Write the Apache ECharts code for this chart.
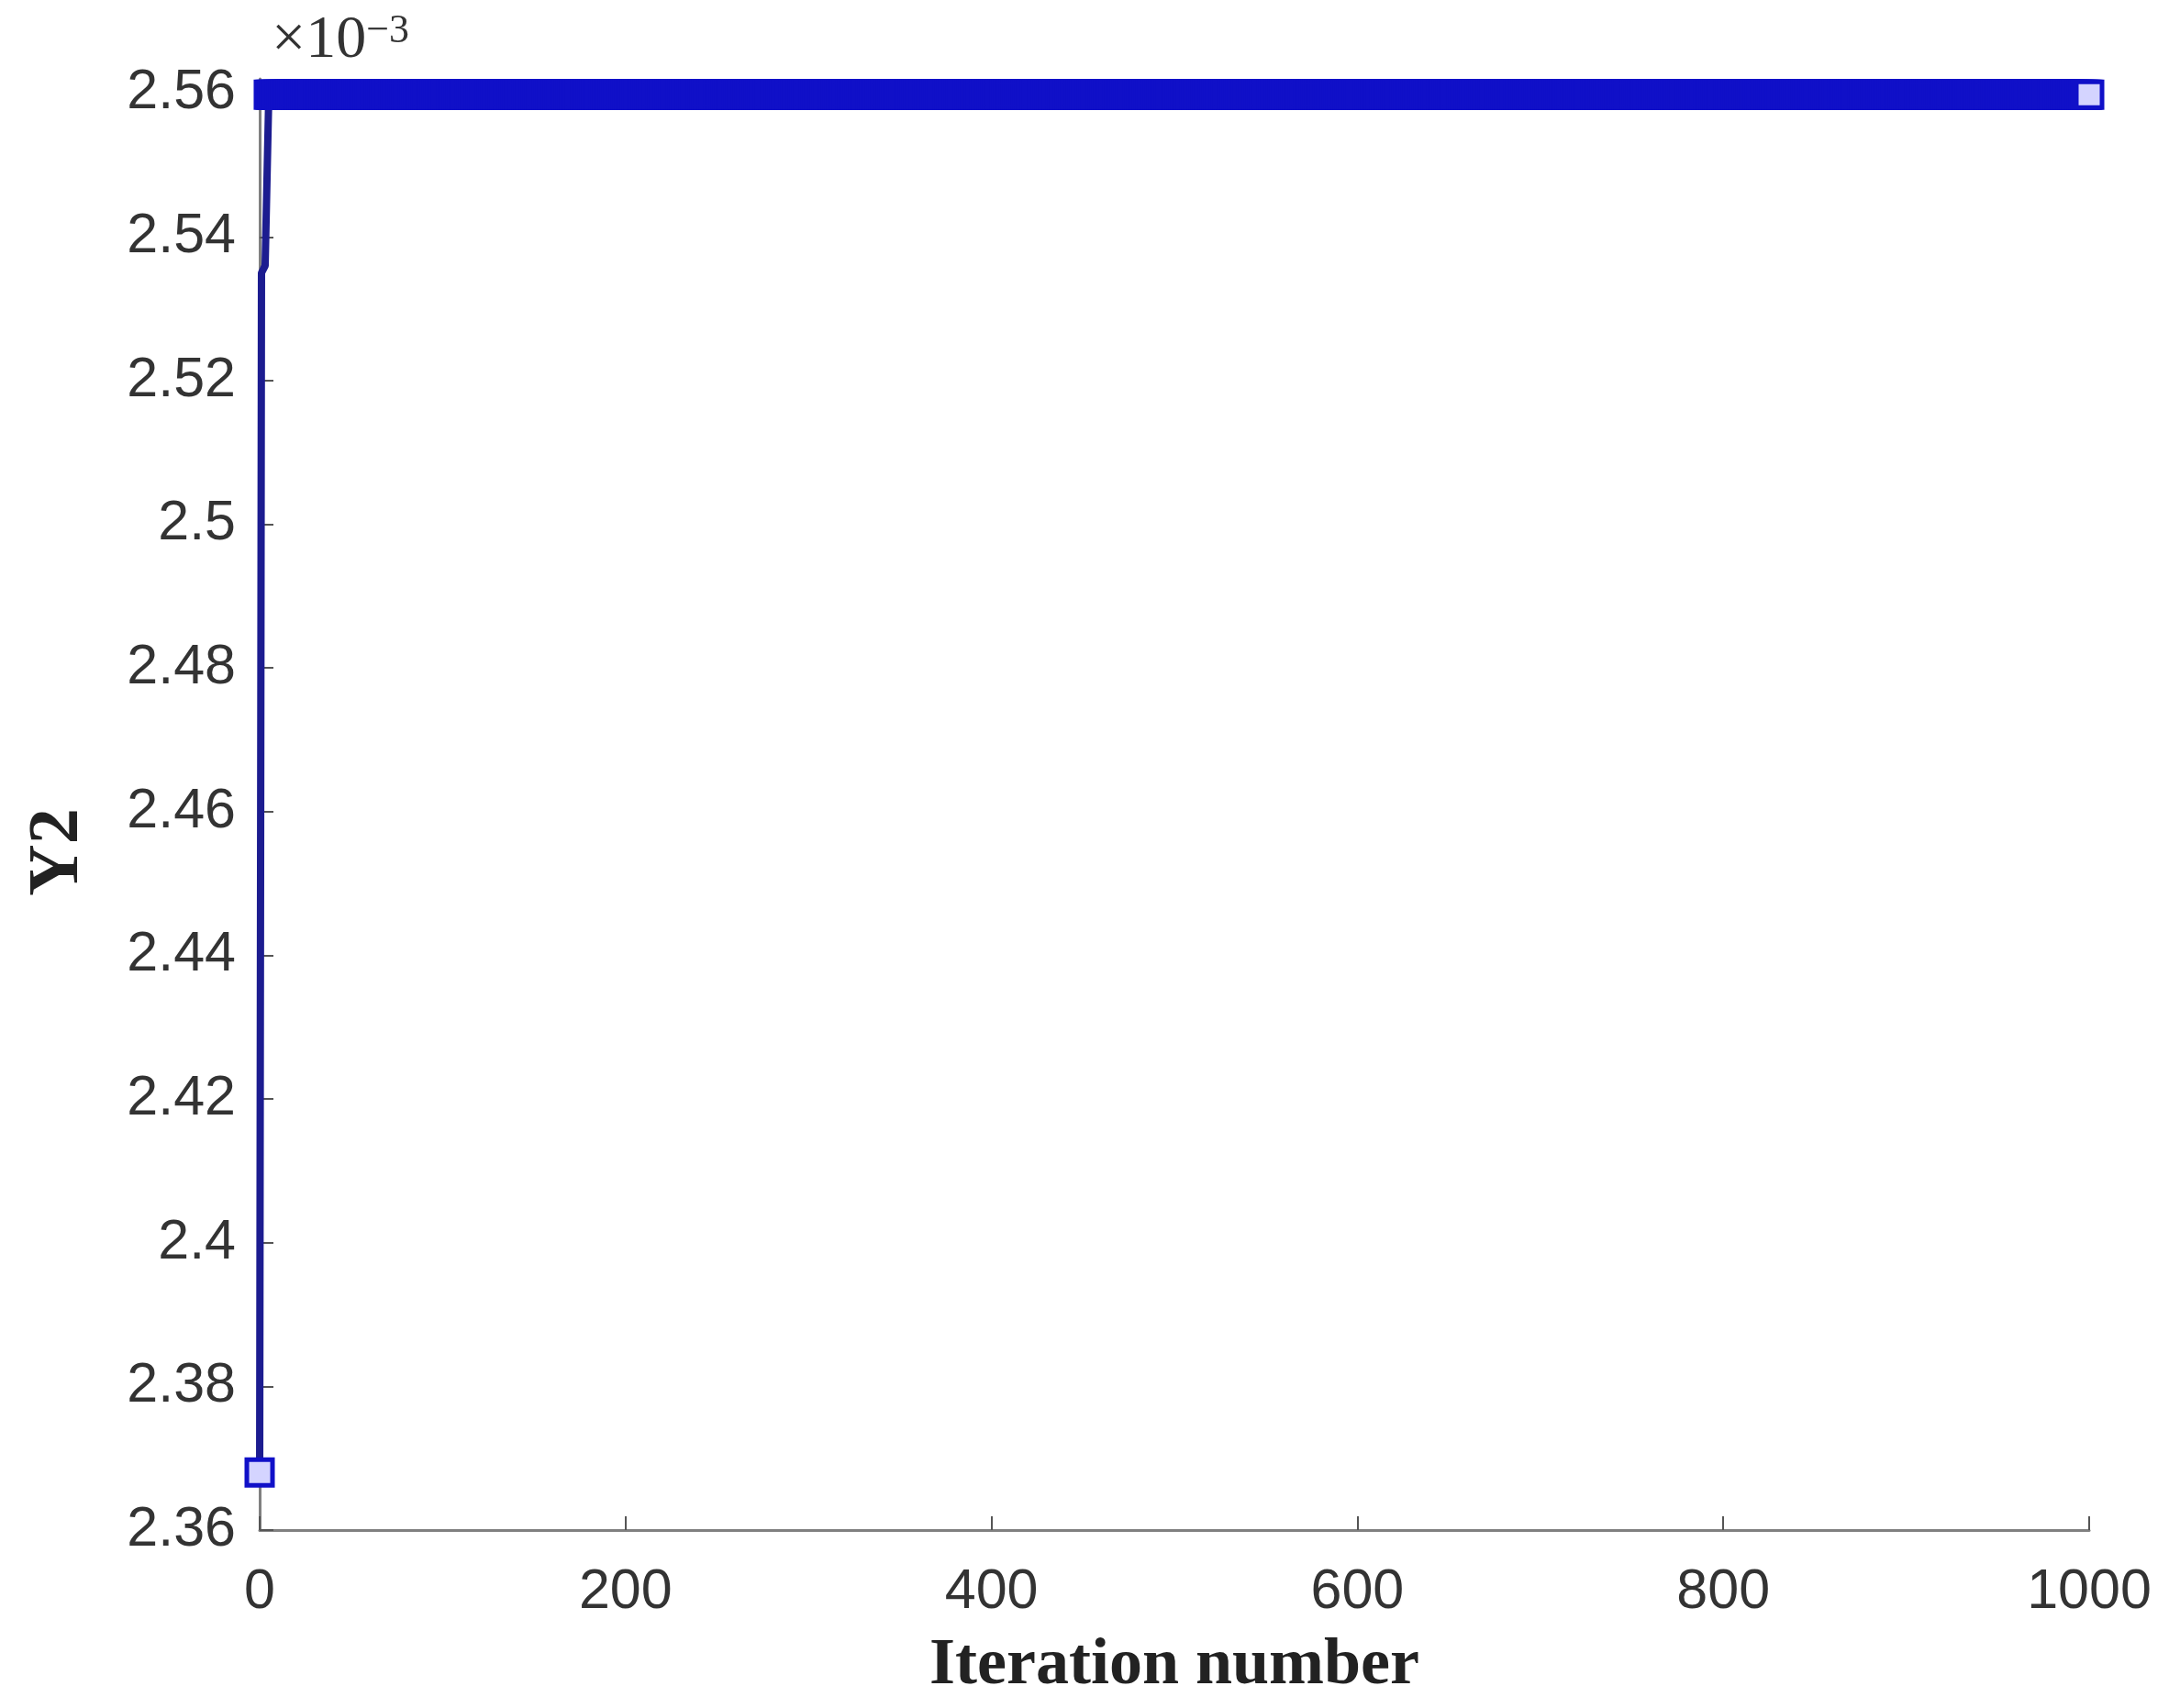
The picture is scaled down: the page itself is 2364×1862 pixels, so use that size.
<!DOCTYPE html>
<html>
<head>
<meta charset="utf-8">
<script src="https://cdn.jsdelivr.net/npm/echarts@6/dist/echarts.min.js"></script>
<style>
  html, body { margin: 0; padding: 0; background: #fff; }
  #chart { width: 2364px; height: 1862px; }
</style>
</head>
<body>
<div id="chart"></div>
<script>
// Y2 values are in units of 1e-3 (see the ×10^-3 label)
const startIterations = [0, 1, 2, 3, 4];
const startValues = [2.368, 2.535, 2.535, 2.536, 2.536];
const plateauValue = 2.5598;   // flat from iteration 5 to the end
const lastIteration = 1000;

const xTicks = [0, 200, 400, 600, 800, 1000];
const yTicks = [2.36, 2.38, 2.4, 2.42, 2.44, 2.46, 2.48, 2.5, 2.52, 2.54, 2.56];

// first point keeps its marker, the short climb to the plateau has none
const points = startIterations.map((it, i) => {
  return i === 0 ? [it, startValues[i]] : { value: [it, startValues[i]], symbol: 'none' };
});
for (let it = startIterations.length; it <= lastIteration; it++) {
  points.push([it, plateauValue]);
}

const labelFont = { fontFamily: 'Liberation Sans, Arial, sans-serif', fontSize: 61, color: '#333' };
const serif = 'Liberation Serif, Times New Roman, serif';
const axisGray = '#808080';

const chart = echarts.init(document.getElementById('chart'));
chart.setOption({
  animation: false,
  backgroundColor: '#fff',
  grid: { left: 283, right: 87, top: 86, bottom: 194 },
  xAxis: {
    type: 'value',
    min: xTicks[0],
    max: xTicks[xTicks.length - 1],
    interval: xTicks[1] - xTicks[0],
    name: 'Iteration number',
    nameLocation: 'middle',
    nameGap: 112,
    nameTextStyle: { fontFamily: serif, fontWeight: 'bold', fontSize: 72, color: '#222' },
    axisLine: { lineStyle: { color: axisGray, width: 3 } },
    axisTick: { inside: true, length: 15, lineStyle: { color: '#555', width: 2 } },
    axisLabel: Object.assign({ margin: 38, formatter: v => String(v) }, labelFont),
    splitLine: { show: false }
  },
  yAxis: {
    type: 'value',
    min: yTicks[0],
    max: 2.562,
    interval: yTicks[1] - yTicks[0],
    name: 'Y2',
    nameLocation: 'middle',
    nameGap: 180,
    nameTextStyle: {
      fontFamily: serif, fontWeight: 'bold', fontSize: 78, color: '#222',
      padding: [0, 104, 0, 0]
    },
    axisLine: { show: true, lineStyle: { color: axisGray, width: 3 } },
    axisTick: { show: true, inside: true, length: 15, lineStyle: { color: '#555', width: 2 } },
    axisLabel: Object.assign({ margin: 26, showMaxLabel: false }, labelFont),
    splitLine: { show: false }
  },
  graphic: [{
    type: 'text',
    left: 296,
    top: 12,
    style: {
      text: '{b|×10}{s|−3}',
      rich: {
        b: { fontFamily: serif, fontSize: 66, fill: '#333' },
        s: { fontFamily: serif, fontSize: 44, fill: '#333', verticalAlign: 'top' }
      }
    }
  }],
  series: [{
    type: 'line',
    data: points,
    symbol: 'rect',
    symbolSize: 28,
    showSymbol: true,
    clip: false,
    lineStyle: { color: '#1c1c90', width: 8 },
    itemStyle: { color: '#d4d4ff', borderColor: '#1010c8', borderWidth: 5 }
  }]
});
</script>
</body>
</html>
